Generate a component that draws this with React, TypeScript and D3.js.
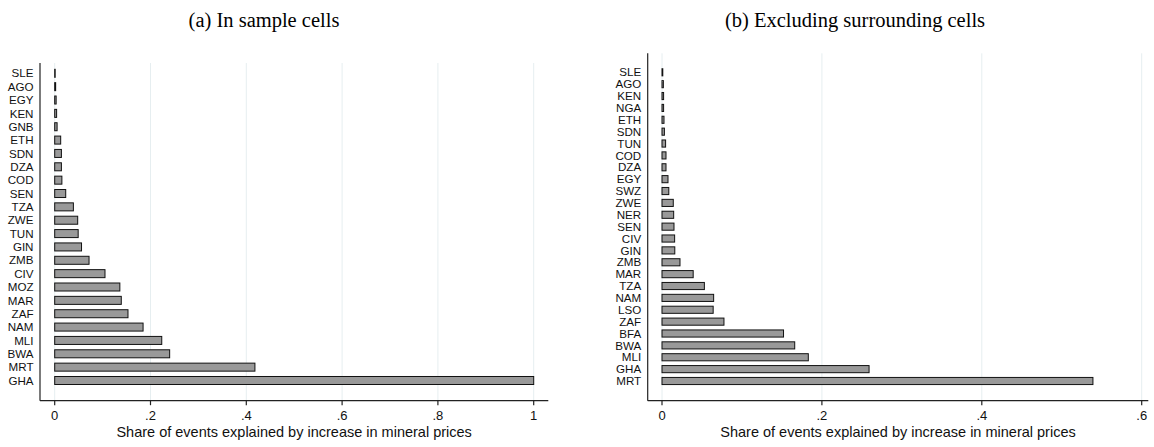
import React from "react";
import * as d3 from "d3";

const leftCats = ["SLE","AGO","EGY","KEN","GNB","ETH","SDN","DZA","COD","SEN","TZA","ZWE","TUN","GIN","ZMB","CIV","MOZ","MAR","ZAF","NAM","MLI","BWA","MRT","GHA"];
const leftVals = [0.001,0.002,0.003,0.004,0.005,0.0125,0.014,0.014,0.015,0.023,0.039,0.048,0.049,0.056,0.0717,0.105,0.136,0.139,0.153,0.1845,0.2235,0.240,0.418,1.0];
const leftTicks = [0, 0.2, 0.4, 0.6, 0.8, 1];
const leftTickLabels = ["0", ".2", ".4", ".6", ".8", "1"];

const rightCats = ["SLE","AGO","KEN","NGA","ETH","SDN","TUN","COD","DZA","EGY","SWZ","ZWE","NER","SEN","CIV","GIN","ZMB","MAR","TZA","NAM","LSO","ZAF","BFA","BWA","MLI","GHA","MRT"];
const rightVals = [0.001,0.0017,0.002,0.002,0.0025,0.003,0.0045,0.005,0.005,0.0075,0.0085,0.0141,0.0146,0.015,0.0158,0.016,0.0225,0.039,0.053,0.0646,0.064,0.0775,0.152,0.166,0.183,0.259,0.539];
const rightTicks = [0, 0.2, 0.4, 0.6];
const rightTickLabels = ["0", ".2", ".4", ".6"];

const titles = ["(a) In sample cells", "(b) Excluding surrounding cells"];
const xTitle = "Share of events explained by increase in mineral prices";

const SANS = "'Liberation Sans', Arial, Helvetica, sans-serif";
const SERIF = "'Liberation Serif', 'Times New Roman', serif";

type PanelProps = {
  cats: string[];
  vals: number[];
  ticks: number[];
  tickLabels: string[];
  xMax: number;
  axisX: number;
  zeroX: number;
  maxX: number;
  axisEnd: number;
  axisTop: number;
  axisBottom: number;
  catTop: number;
  catBottom: number;
  title: string;
  titleX: number;
};

function Panel(p: PanelProps) {
  const x = d3.scaleLinear().domain([0, p.xMax]).range([p.zeroX, p.maxX]);
  const y = d3.scalePoint<string>().domain(p.cats).range([p.catTop, p.catBottom]);
  const step = y.step();
  const bh = step * 0.6;
  const labelEnd = p.axisX - 6.5;
  const fsLab = 11.6;
  return (
    <g>
      <text x={p.titleX} y={27} textAnchor="middle" fontFamily={SERIF} fontSize={20.5} fill="#000">
        {p.title}
      </text>
      {p.ticks.map((t, i) => (
        <line key={"g" + i} x1={x(t)} x2={x(t)} y1={p.axisTop} y2={p.axisBottom} stroke="#e6eef0" strokeWidth={1} />
      ))}
      {p.cats.map((c, i) => {
        const cy = y(c) as number;
        return (
          <g key={c}>
            <rect x={x(0)} y={cy - bh / 2} width={Math.max(0, x(p.vals[i]) - x(0))} height={bh} fill="#999999" stroke="#111" strokeWidth={1} />
            <text x={labelEnd} y={cy + fsLab * 0.36} textAnchor="end" fontFamily={SANS} fontSize={fsLab} fill="#111">
              {c}
            </text>
          </g>
        );
      })}
      <line x1={p.axisX} x2={p.axisX} y1={p.axisTop} y2={p.axisBottom} stroke="#222" strokeWidth={1.2} />
      <line x1={p.axisX} x2={p.axisEnd} y1={p.axisBottom} y2={p.axisBottom} stroke="#222" strokeWidth={1.2} />
      {p.ticks.map((t, i) => (
        <g key={"t" + i}>
          <line x1={x(t)} x2={x(t)} y1={p.axisBottom} y2={p.axisBottom + 4.5} stroke="#222" strokeWidth={1.2} />
          <text x={x(t)} y={420} textAnchor="middle" fontFamily={SANS} fontSize={13} fill="#111">
            {p.tickLabels[i]}
          </text>
        </g>
      ))}
      <text x={(p.axisX + p.axisEnd) / 2} y={436.5} textAnchor="middle" fontFamily={SANS} fontSize={14.5} fill="#111">
        {xTitle}
      </text>
    </g>
  );
}

export default function App() {
  return (
    <svg width={1154} height={447} style={{ display: "block", position: "absolute", left: 0, top: 0, background: "#fff" }}>
      <rect x={0} y={0} width={1154} height={447} fill="#fff" />
      <Panel
        cats={leftCats} vals={leftVals} ticks={leftTicks} tickLabels={leftTickLabels} xMax={1}
        axisX={40} zeroX={54.7} maxX={533.7} axisEnd={548.3} axisTop={63} axisBottom={400.7}
        catTop={73.3} catBottom={380.5} title={titles[0]} titleX={264}
      />
      <Panel
        cats={rightCats} vals={rightVals} ticks={rightTicks} tickLabels={rightTickLabels} xMax={0.6}
        axisX={647.7} zeroX={662} maxX={1141.7} axisEnd={1148.3} axisTop={53.3} axisBottom={400.7}
        catTop={72.3} catBottom={381} title={titles[1]} titleX={855}
      />
    </svg>
  );
}
